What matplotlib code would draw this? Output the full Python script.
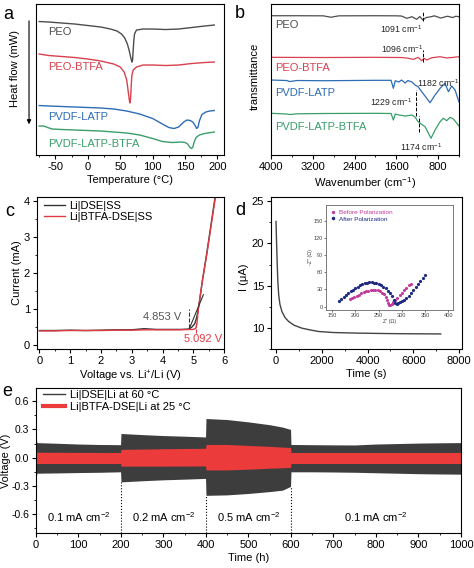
import matplotlib
matplotlib.use('Agg')
import matplotlib.pyplot as plt
import numpy as np
from matplotlib.ticker import AutoMinorLocator, MultipleLocator
from matplotlib.lines import Line2D

plt.rcParams['font.family'] = ['Liberation Sans', 'DejaVu Sans']
plt.rcParams['mathtext.fontset'] = 'custom'
plt.rcParams['mathtext.rm'] = 'Liberation Sans'
plt.rcParams['mathtext.default'] = 'regular'
plt.rcParams['axes.unicode_minus'] = False
plt.rcParams['font.size'] = 8
plt.rcParams['axes.linewidth'] = 0.8
plt.rcParams['xtick.major.size'] = 3
plt.rcParams['ytick.major.size'] = 3
plt.rcParams['xtick.minor.size'] = 1.6
plt.rcParams['ytick.minor.size'] = 1.6
plt.rcParams['xtick.major.pad'] = 2
plt.rcParams['ytick.major.pad'] = 2

GRAY = '#4d4d4d'
RED = '#d8414f'
BLUE = '#2e6cb5'
GREEN = '#3a9e6a'

# (a) DSC curves, heat flow in arbitrary units (offset stacked)
peo_t = [-75, -60, -40, -20, 0, 20, 35, 45, 52, 57, 61, 64, 66, 68, 69, 70, 71, 72, 75, 85, 100, 120, 140, 160, 180, 195]
peo_hf = [133.5, 133, 132, 131, 129.5, 128, 126, 124, 121, 117, 111, 104, 98, 93, 95, 105, 115, 121, 125, 126, 126, 125.5, 126, 127.5, 129, 130]
peob_t = [-75, -60, -40, -20, 0, 20, 40, 50, 56, 60, 62, 64, 65, 66, 67, 68, 70, 75, 85, 100, 120, 140, 160, 180, 195]
peob_hf = [101, 99.5, 98.5, 97.5, 96, 94, 91, 88, 83, 75, 65, 55, 52, 57, 70, 80, 85, 88, 90, 90, 89.5, 90, 91.5, 92.5, 93]
pl_t = [-75, -60, -40, -20, 0, 20, 40, 60, 80, 100, 115, 125, 133, 140, 148, 153, 158, 162, 165, 168, 170, 172, 176, 182, 188, 195]
pl_hf = [49.5, 49, 48.5, 48, 47.5, 47, 46, 44, 41, 36.5, 31, 27.5, 26.5, 28, 33, 35, 34.5, 33, 30, 26.5, 28, 34, 40.5, 43, 44, 44.5]
plb_t = [-75, -68, -62, -55, -40, -20, 0, 20, 40, 60, 80, 100, 115, 130, 145, 150, 154, 157, 160, 162, 164, 167, 172, 180, 195]
plb_hf = [29, 29, 27.5, 26, 25.5, 25, 24.5, 24, 23, 22, 20, 16.5, 13.5, 12.5, 13, 12.5, 11, 8, 6.5, 8, 13, 17.5, 20, 21.5, 23]
dsc_names = ['PEO', 'PEO-BTFA', 'PVDF-LATP', 'PVDF-LATP-BTFA']
dsc_label_y = [123, 88, 38, 11]

# (b) FTIR spectra, transmittance in arbitrary units (offset stacked)
ir_peo_wn = [4000, 3500, 3000, 2850, 2700, 2000, 1600, 1500, 1400, 1300, 1210, 1150, 1091, 1030, 935, 870, 750, 620, 520, 460, 400]
ir_peo = [139.3, 139.3, 139.2, 137.8, 139.2, 139.3, 139.2, 139, 136.7, 138.3, 135.7, 138.5, 135, 137.5, 138.3, 139.2, 137, 138.8, 137.5, 138.8, 138.3]
ir_peob_wn = [4000, 3000, 2000, 1500, 1400, 1272, 1184, 1113, 1069, 1017, 921, 762, 635, 507, 400]
ir_peob = [97.7, 97.5, 97.7, 97.5, 97, 95.7, 97.7, 94.3, 96.7, 95, 97.3, 98.3, 97, 97.7, 98.3]
ir_pl_wn = [4000, 3700, 3640, 3500, 3000, 2000, 1700, 1657, 1620, 1550, 1500, 1430, 1380, 1300, 1241, 1184, 1113, 1017, 954, 858, 762, 667, 603, 538, 475, 400]
ir_pl = [75, 74.5, 73.5, 74.5, 74.3, 74.7, 74.7, 66.7, 74.3, 73, 75, 72, 74.5, 73, 70, 68.3, 63.3, 56.7, 52.3, 60, 66.7, 71.7, 63.3, 69, 65, 53]
ir_plb_wn = [4000, 3700, 3640, 3500, 3000, 2000, 1700, 1657, 1620, 1550, 1430, 1300, 1241, 1184, 1050, 935, 858, 762, 700, 635, 570, 507, 400]
ir_plb = [41.7, 41, 40.5, 41.2, 41.5, 41.7, 41.5, 35, 41, 40, 39, 40, 38, 33.3, 28.3, 16.7, 25, 33.3, 36.7, 34.3, 37.7, 36, 29]
ir_mark_wn = [1091, 1096, 1229, 1174]
ir_mark_lo = [134, 93, 39, 23]
ir_mark_hi = [144, 105, 65, 39]
ir_mark_text = ['1091 cm$^{-1}$', '1096 cm$^{-1}$', '1182 cm$^{-1}$', '1229 cm$^{-1}$', '1174 cm$^{-1}$']
ir_text_x = [1510, 1490, 800, 1700, 1126]
ir_text_y = [126, 106, 72, 53, 8]

# (c) LSV
lsv_v1 = [0, 0.5, 1, 1.5, 2, 2.5, 3, 3.4, 3.8, 4.2, 4.6, 4.85, 4.95, 5.05, 5.12, 5.2, 5.3, 5.44, 5.58, 5.72]
lsv_i1 = [0.41, 0.41, 0.42, 0.41, 0.42, 0.43, 0.43, 0.46, 0.44, 0.44, 0.44, 0.45, 0.5, 0.6, 0.8, 1.2, 1.8, 2.55, 3.35, 4.15]
lsv_v2 = [0, 0.5, 1, 1.5, 2, 2.5, 3, 3.5, 4, 4.5, 5.0, 5.08, 5.12, 5.17, 5.3, 5.44, 5.58, 5.73]
lsv_i2 = [0.4, 0.4, 0.41, 0.41, 0.41, 0.42, 0.42, 0.43, 0.43, 0.43, 0.44, 0.47, 0.6, 1.04, 1.8, 2.51, 3.3, 4.15]
onset_v = [4.853, 5.092]

# (d) chronoamperometry + EIS inset
ca_t = [0, 20, 50, 80, 117, 170, 262, 400, 553, 800, 1137, 1500, 1865, 2500, 3500, 5000, 6000, 7200]
ca_i = [22.6, 20.5, 17.8, 15.5, 13.9, 12.8, 11.9, 11.2, 10.75, 10.3, 9.96, 9.75, 9.57, 9.45, 9.38, 9.32, 9.3, 9.28]
eis_before_re = [188, 193, 198, 203, 208, 213, 218, 223, 228, 233, 238, 243, 248, 253, 258, 262, 266, 269, 271, 273, 275, 278, 282, 286, 290, 295, 300, 305, 310, 315, 319]
eis_before_im = [14, 15.5, 17, 19, 21, 23, 25, 26.5, 28, 29, 29.5, 29.5, 28.5, 27, 24.5, 21.5, 17, 12, 7, 3, 2.5, 5, 8.5, 12, 15.5, 19.5, 24, 28.5, 33, 37, 40]
eis_after_re = [165, 170, 175, 180, 185, 190, 195, 200, 205, 210, 215, 220, 225, 230, 235, 240, 245, 250, 255, 260, 265, 270, 275, 279, 283, 286, 289, 292, 296, 300, 305, 310, 315, 320, 325, 330, 335, 340, 345, 350]
eis_after_im = [10, 13, 16, 19.5, 23, 26.5, 29.5, 32.5, 35, 37.5, 39.5, 41, 42, 42.5, 42.5, 42, 41, 39.5, 37.5, 35, 32, 28, 23, 18, 12, 7, 5, 5.5, 7.5, 9.5, 12, 15, 19, 23.5, 28.5, 33.5, 39, 44.5, 50, 55]

# (e) symmetric cell cycling, voltage envelopes
cyc_gray_t = [0, 1, 2, 50, 100, 150, 199, 200, 250, 300, 350, 399, 400, 450, 500, 550, 580, 599, 600, 650, 700, 750, 800, 850, 900, 950, 1000]
cyc_gray_top = [0.27, 0.2, 0.16, 0.153, 0.145, 0.14, 0.138, 0.257, 0.245, 0.235, 0.228, 0.22, 0.416, 0.405, 0.38, 0.35, 0.325, 0.3, 0.14, 0.138, 0.136, 0.135, 0.145, 0.15, 0.155, 0.158, 0.16]
cyc_gray_bot = [-0.27, -0.2, -0.165, -0.162, -0.158, -0.155, -0.15, -0.257, -0.245, -0.235, -0.228, -0.22, -0.4, -0.395, -0.38, -0.36, -0.345, -0.305, -0.15, -0.15, -0.152, -0.155, -0.16, -0.165, -0.17, -0.173, -0.175]
cyc_red_t = [0, 199, 200, 300, 399, 400, 450, 500, 550, 599, 600, 800, 1000]
cyc_red_top = [0.058, 0.055, 0.088, 0.095, 0.1, 0.14, 0.14, 0.13, 0.12, 0.108, 0.055, 0.055, 0.055]
cyc_red_bot = [-0.062, -0.062, -0.09, -0.09, -0.088, -0.13, -0.13, -0.122, -0.112, -0.104, -0.062, -0.062, -0.062]
step_t = [200, 400, 600]
step_top = [-0.257, -0.4, -0.305]
rate_t = [100, 300, 500, 800]
rate_labels = ['0.1 mA cm$^{-2}$', '0.2 mA cm$^{-2}$', '0.5 mA cm$^{-2}$', '0.1 mA cm$^{-2}$']

fig = plt.figure(figsize=(4.74, 5.68), dpi=100)

# ---- panel a
ax = fig.add_axes([0.0759, 0.7271, 0.3966, 0.2658])
colors = [GRAY, RED, BLUE, GREEN]
for (t, hf), c in zip([(peo_t, peo_hf), (peob_t, peob_hf), (pl_t, pl_hf), (plb_t, plb_hf)], colors):
    ax.plot(t, hf, color=c, lw=1.0)
for name, y, c in zip(dsc_names, dsc_label_y, colors):
    ax.text(-61, y, name, color=c, va='center', ha='left', fontsize=8)
ax.set_xlim(-80, 210)
ax.set_ylim(0, 151)
ax.set_yticks([])
ax.xaxis.set_major_locator(MultipleLocator(50))
ax.xaxis.set_minor_locator(AutoMinorLocator(2))
ax.set_xlabel('Temperature (°C)', labelpad=2)
ax.annotate('', xy=(-0.037, 0.185), xytext=(-0.037, 0.907), xycoords='axes fraction',
            arrowprops=dict(arrowstyle='-|>', color='k', lw=0.8, mutation_scale=6))
ax.text(-0.112, 0.57, 'Heat flow (mW)', rotation=90, transform=ax.transAxes, ha='center', va='center')
fig.text(0.017, 0.975, 'a', fontsize=13, va='center', ha='center')

# ---- panel b
ax = fig.add_axes([0.5717, 0.7271, 0.3966, 0.2658])
for (wn, tr), c in zip([(ir_peo_wn, ir_peo), (ir_peob_wn, ir_peob), (ir_pl_wn, ir_pl), (ir_plb_wn, ir_plb)], colors):
    ax.plot(wn, tr, color=c, lw=0.9)
ax.vlines(ir_mark_wn, ir_mark_lo, ir_mark_hi, colors='k', linestyles='--', lw=0.7)
for name, y, c in zip(dsc_names, [130, 87, 62, 28], colors):
    ax.text(3925, y, name, color=c, va='center', ha='left', fontsize=8)
for s, x, y in zip(ir_mark_text, ir_text_x, ir_text_y):
    ax.text(x, y, s, ha='center', va='center', fontsize=6.3, color='#222222')
ax.set_xlim(4000, 400)
ax.set_ylim(0, 151)
ax.set_yticks([])
ax.set_xticks([4000, 3200, 2400, 1600, 800])
ax.xaxis.set_minor_locator(AutoMinorLocator(2))
ax.set_xlabel('Wavenumber (cm$^{-1}$)', labelpad=2)
ax.set_ylabel('transmittance')
ax.yaxis.set_label_coords(-0.06, 0.52)
fig.text(0.506, 0.977, 'b', fontsize=13, va='center', ha='center')

# ---- panel c
ax = fig.add_axes([0.0781, 0.3856, 0.3945, 0.2676])
ax.plot(lsv_v1, lsv_i1, color='#333333', lw=1.0, label='Li|DSE|SS')
ax.plot(lsv_v2, lsv_i2, color='#e03a44', lw=1.0, label='Li|BTFA-DSE|SS')
ax.plot([4.88, 5.33], [0.48, 1.4], color='#333333', lw=0.8)
ax.vlines(onset_v[0], 0.48, 1.0, colors='#333333', linestyles='--', lw=0.8)
ax.vlines(onset_v[1], 0.35, 0.62, colors='#e03a44', linestyles='--', lw=0.8)
ax.text(4.62, 0.78, '4.853 V', color='#555555', ha='right', va='center', fontsize=8)
ax.text(5.32, 0.17, '5.092 V', color='#e03a44', ha='center', va='center', fontsize=8)
ax.set_xlim(-0.08, 6)
ax.set_ylim(-0.1, 4.1)
ax.xaxis.set_major_locator(MultipleLocator(1))
ax.xaxis.set_minor_locator(AutoMinorLocator(2))
ax.yaxis.set_major_locator(MultipleLocator(1))
ax.yaxis.set_minor_locator(AutoMinorLocator(2))
ax.set_xlabel('Voltage vs. Li$^{+}$/Li (V)', labelpad=2)
ax.set_ylabel('Current (mA)', labelpad=1)
ax.legend(loc='upper left', bbox_to_anchor=(0.0, 1.02), frameon=False, fontsize=8,
          handlelength=1.9, handletextpad=0.4, labelspacing=0.1, borderaxespad=0.2)
fig.text(0.021, 0.627, 'c', fontsize=13, va='center', ha='center')

# ---- panel d
ax = fig.add_axes([0.5717, 0.3856, 0.4030, 0.2676])
ax.plot(ca_t, ca_i, color='#444444', lw=1.0)
ax.set_xlim(-220, 8130)
ax.set_ylim(7.5, 25.5)
ax.xaxis.set_major_locator(MultipleLocator(2000))
ax.xaxis.set_minor_locator(AutoMinorLocator(2))
ax.yaxis.set_major_locator(MultipleLocator(5))
ax.yaxis.set_minor_locator(AutoMinorLocator(2))
ax.set_xlabel('Time (s)', labelpad=2)
ax.set_ylabel('I (μA)')
ax.yaxis.set_label_coords(-0.115, 0.47)
fig.text(0.508, 0.63, 'd', fontsize=13, va='center', ha='center')

ins = fig.add_axes([0.6878, 0.4542, 0.2679, 0.1849])
ins.plot(eis_before_re, eis_before_im, 'o', color='#c03a9c', ms=2.2, mew=0, label='Before Polarization')
ins.plot(eis_after_re, eis_after_im, 'o', color='#1f2a80', ms=2.3, mew=0, label='After Polarization')
ins.set_xlim(137, 410)
ins.set_ylim(-6, 178)
ins.set_xticks([150, 200, 250, 300, 350, 400])
ins.set_yticks([0, 30, 60, 90, 120, 150])
ins.tick_params(labelsize=4, length=1.5, pad=1, colors='#444444', width=0.5)
for sp in ins.spines.values():
    sp.set_linewidth(0.6)
    sp.set_color('#666666')
ins.set_xlabel("Z' (Ω)", fontsize=3.8, labelpad=0.5, color='#444444')
ins.set_ylabel("-Z'' (Ω)", fontsize=3.8, labelpad=0.5, color='#444444')
leg = ins.legend(loc='upper left', frameon=False, fontsize=4.6, handlelength=0.8, handletextpad=0.6,
                 labelspacing=0.2, borderaxespad=0.3, markerscale=1.1)
for txt, c in zip(leg.get_texts(), ['#c03a9c', '#1f2a80']):
    txt.set_color(c)

# ---- panel e
ax = fig.add_axes([0.0759, 0.0616, 0.8966, 0.2553])
ax.fill_between(cyc_gray_t, cyc_gray_bot, cyc_gray_top, color='#3d3d3d', lw=0)
ax.fill_between(cyc_red_t, cyc_red_bot, cyc_red_top, color='#ec3b3b', lw=0)
ax.vlines(step_t, -0.8, step_top, colors='k', linestyles=':', lw=0.8)
for x, s in zip(rate_t, rate_labels):
    ax.text(x, -0.63, s, ha='center', va='center', fontsize=8)
ax.set_xlim(0, 1000)
ax.set_ylim(-0.8, 0.74)
ax.xaxis.set_major_locator(MultipleLocator(100))
ax.xaxis.set_minor_locator(AutoMinorLocator(2))
ax.set_yticks([-0.6, -0.3, 0.0, 0.3, 0.6])
ax.yaxis.set_minor_locator(AutoMinorLocator(2))
ax.tick_params(axis='y', labelsize=7.5)
ax.set_xlabel('Time (h)', labelpad=2)
ax.set_ylabel('Voltage (V)', fontsize=7.8)
ax.yaxis.set_label_coords(-0.059, 0.5)
handles = [Line2D([], [], color='#3d3d3d', lw=1.0), Line2D([], [], color='#ec3b3b', lw=3)]
ax.legend(handles, ['Li|DSE|Li at 60 °C', 'Li|BTFA-DSE|Li at 25 °C'], loc='upper left',
          bbox_to_anchor=(0.0, 1.03), frameon=False, fontsize=8, handlelength=2.0,
          handletextpad=0.5, labelspacing=0.15, borderaxespad=0.2)
fig.text(0.015, 0.31, 'e', fontsize=13, va='center', ha='center')

fig.savefig('out.png', dpi=100)
